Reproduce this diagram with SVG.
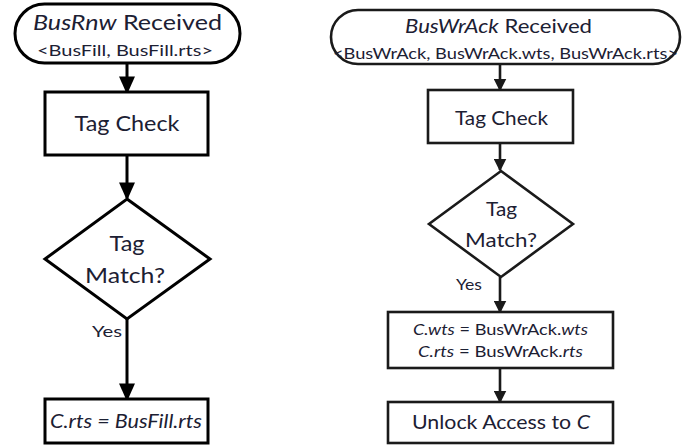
<svg xmlns="http://www.w3.org/2000/svg" width="692" height="445" viewBox="0 0 692 445">
<style>
.s{fill:#fff;stroke:#000;stroke-width:3}
.s2{fill:#fff;stroke:#1a1a1a;stroke-width:2.6}
text{font-family:Lato,"Open Sans","Liberation Sans",sans-serif;fill:#1c2033;text-anchor:middle}
.i{font-style:italic}
.c{stroke:#000;stroke-width:3;fill:none}
.c2{stroke:#1a1a1a;stroke-width:2.6;fill:none}
</style>
<defs>
<marker id="ah" markerWidth="6" markerHeight="5.4" refX="5.2" refY="2.7" orient="auto" markerUnits="strokeWidth" viewBox="0 0 6 5.4"><path d="M0,0 L6,2.7 L0,5.4 Z" fill="#000"/></marker>
<marker id="ah2" markerWidth="5" markerHeight="5" refX="4.4" refY="2.5" orient="auto" markerUnits="strokeWidth" viewBox="0 0 5 5"><path d="M0,0 L5,2.5 L0,5 Z" fill="#1a1a1a"/></marker>
</defs>
<rect width="692" height="445" fill="#fff"/>
<g id="connectors">
<line class="c" x1="127" y1="63" x2="127" y2="92" marker-end="url(#ah)"/>
<line class="c" x1="127" y1="155" x2="127" y2="198" marker-end="url(#ah)"/>
<line class="c" x1="127" y1="319" x2="127" y2="399" marker-end="url(#ah)"/>
<line class="c2" x1="500" y1="64" x2="500" y2="90" marker-end="url(#ah2)"/>
<line class="c2" x1="500" y1="143" x2="500" y2="170" marker-end="url(#ah2)"/>
<line class="c2" x1="500" y1="277" x2="500" y2="312" marker-end="url(#ah2)"/>
<line class="c2" x1="500" y1="368" x2="500" y2="402" marker-end="url(#ah2)"/>
</g>
<g id="l-start">
<rect class="s" x="15" y="4" width="225" height="59" rx="29.5"/>
<text x="127.5" y="30" font-size="21" textLength="189" lengthAdjust="spacingAndGlyphs"><tspan class="i">BusRnw</tspan> Received</text>
<text x="125" y="56" font-size="15" textLength="176" lengthAdjust="spacingAndGlyphs">&lt;BusFill, BusFill.rts&gt;</text>
</g>
<g id="l-tagcheck">
<rect class="s" x="45" y="92" width="163" height="63"/>
<text x="127" y="131" font-size="22" textLength="105" lengthAdjust="spacingAndGlyphs">Tag Check</text>
</g>
<g id="l-match">
<polygon class="s" points="127,199 210,259 127,319 45,259"/>
<text x="127" y="251" font-size="22" textLength="35" lengthAdjust="spacingAndGlyphs">Tag</text>
<text x="125" y="283" font-size="22" textLength="80" lengthAdjust="spacingAndGlyphs">Match?</text>
</g>
<text x="107" y="337" font-size="16" textLength="30" lengthAdjust="spacingAndGlyphs">Yes</text>
<g id="l-assign">
<rect class="s" x="45" y="399" width="163" height="44"/>
<text class="i" x="126" y="428" font-size="20" textLength="152" lengthAdjust="spacingAndGlyphs">C.rts = BusFill.rts</text>
</g>
<g id="r-start">
<rect class="s2" x="331" y="10" width="349" height="54" rx="27"/>
<text x="498.5" y="33" font-size="20" textLength="187" lengthAdjust="spacingAndGlyphs"><tspan class="i">BusWrAck</tspan> Received</text>
<text x="505.5" y="59" font-size="16" textLength="345" lengthAdjust="spacingAndGlyphs">&lt;BusWrAck, BusWrAck.wts, BusWrAck.rts&gt;</text>
</g>
<g id="r-tagcheck">
<rect class="s2" x="428" y="90" width="145" height="53"/>
<text x="501.5" y="125" font-size="20" textLength="93" lengthAdjust="spacingAndGlyphs">Tag Check</text>
</g>
<g id="r-match">
<polygon class="s2" points="501,171 573,224 501,277 429,224"/>
<text x="501.5" y="216" font-size="20" textLength="31" lengthAdjust="spacingAndGlyphs">Tag</text>
<text x="501" y="247" font-size="20" textLength="72" lengthAdjust="spacingAndGlyphs">Match?</text>
</g>
<text x="469" y="290" font-size="15" textLength="26" lengthAdjust="spacingAndGlyphs">Yes</text>
<g id="r-assign">
<rect class="s2" x="388" y="312" width="225" height="56"/>
<text x="500.5" y="335" font-size="16" textLength="175" lengthAdjust="spacingAndGlyphs"><tspan class="i">C.wts</tspan> = BusWrAck.<tspan class="i">wts</tspan></text>
<text x="500.5" y="357" font-size="16" textLength="165" lengthAdjust="spacingAndGlyphs"><tspan class="i">C.rts</tspan> = BusWrAck.<tspan class="i">rts</tspan></text>
</g>
<g id="r-unlock">
<rect class="s2" x="388" y="402" width="225" height="41"/>
<text x="501" y="429" font-size="19" textLength="178" lengthAdjust="spacingAndGlyphs">Unlock Access to <tspan class="i">C</tspan></text>
</g>
</svg>
